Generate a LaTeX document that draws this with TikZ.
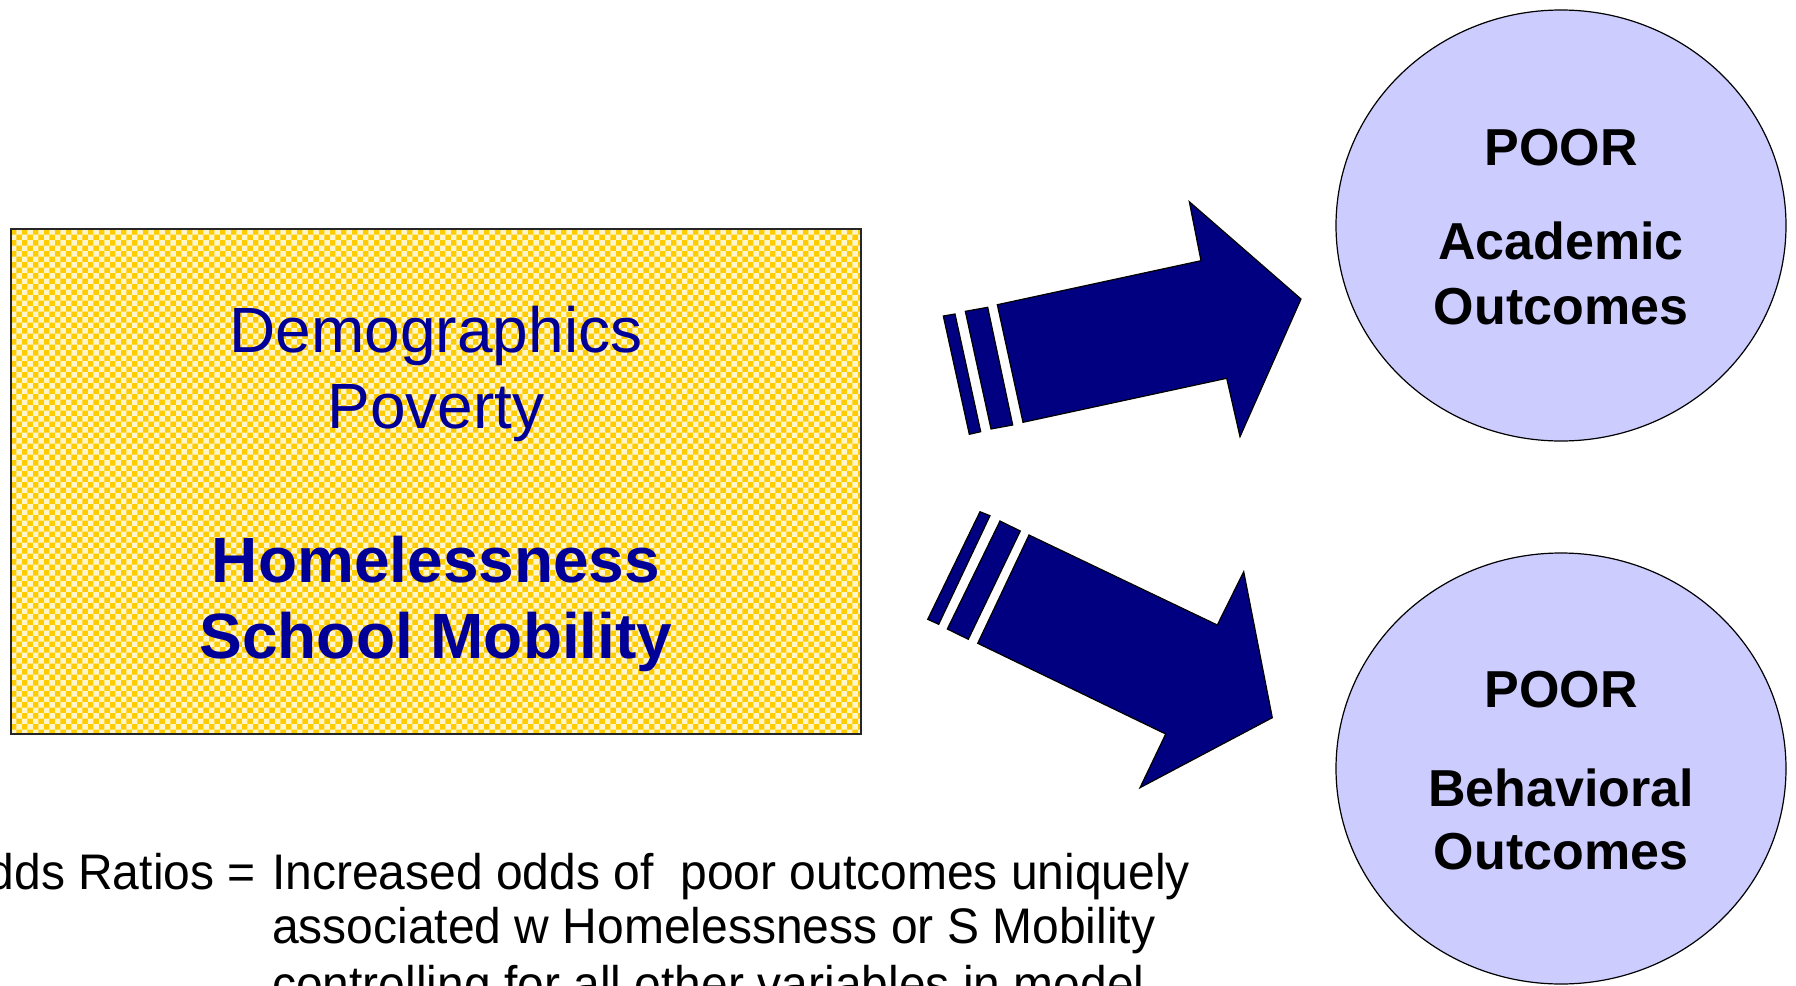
\documentclass[tikz,border=0pt]{standalone}
\usepackage{fontspec}
\setmainfont{Liberation Sans}
\usepackage{graphicx}
\usetikzlibrary{patterns,shapes.geometric}
\definecolor{boxyellow}{HTML}{FFCC00}
\definecolor{textnavy}{HTML}{000099}
\definecolor{arrownavy}{HTML}{000080}
\definecolor{circlefill}{HTML}{CCCCFF}
\tikzset{
  infobox/.style={rectangle, fill=boxyellow,
    postaction={pattern=checkerboard, pattern color=white!80!boxyellow},
    minimum width=850pt, minimum height=505pt, inner sep=0pt},
  boxedge/.style={draw=black!85, line width=1.5pt},
  boxtext/.style={anchor=base, inner sep=0pt, text=textnavy, font=\fontsize{64}{64}\selectfont},
  boxbold/.style={boxtext, font=\fontsize{64}{64}\selectfont\bfseries},
  outcome/.style={ellipse, draw=black, line width=1.2pt, fill=circlefill,
    minimum width=450pt, minimum height=431pt, inner sep=0pt},
  outtext/.style={anchor=base, inner sep=0pt, text=black, font=\fontsize{52}{52}\selectfont\bfseries},
  blockarrow/.style={fill=arrownavy, draw=black, line width=1.2pt, line join=miter},
  notetext/.style={inner sep=0pt, text=black, font=\fontsize{50}{50}\selectfont}
}
\begin{document}
\begin{tikzpicture}[x=1pt,y=-1pt]
\useasboundingbox (0,0) rectangle (1796,985);
\clip (0,0) rectangle (1796,985);

% left box
\node[infobox] (box) at (436,481.5) {};
\draw[boxedge] (box.north west) rectangle (box.south east);
\node[boxtext] (demo) at (436,352) {Demographics};
\node[boxtext] (pov) at (436,428) {Poverty};
\node[boxbold] (home) at (436,582) {Homelessness};
\node[boxbold] (mob) at (436,658) {School Mobility};

% outcome ellipses
\node[outcome] (acad) at (1561,225.5) {};
\node[outtext] (acadpoor) at (1561,165) {POOR};
\node[outtext] (acadname) at (1561,259) {Academic};
\node[outtext] (acadout) at (1561,324) {Outcomes};

\node[outcome] (behav) at (1561,768.5) {};
\node[outtext] (behavpoor) at (1561,707) {POOR};
\node[outtext] (behavname) at (1561,806) {Behavioral};
\node[outtext] (behavout) at (1561,869) {Outcomes};

% top block arrow
\draw[blockarrow] (997.3,304.7) -- (1201,260.7) -- (1189.3,201.7) -- (1301,299)
  -- (1240,436.7) -- (1226.7,378.3) -- (1023,422.3) -- cycle;
\draw[blockarrow] (965.3,311.3) -- (987.7,307.3) -- (1012.7,425) -- (991,429) -- cycle;
\draw[blockarrow] (943.3,316) -- (955,314) -- (980.7,431.7) -- (969.3,434.3) -- cycle;

% bottom block arrow
\draw[blockarrow] (1029,535) -- (1217.3,625) -- (1243.7,571.7) -- (1272.3,717.7)
  -- (1140,787.7) -- (1165.7,734) -- (977.7,643.3) -- cycle;
\draw[blockarrow] (1000,521) -- (1020.3,531) -- (968.3,639.3) -- (947.3,629) -- cycle;
\draw[blockarrow] (980,511.7) -- (990,515.7) -- (938.7,624.3) -- (927.7,619.3) -- cycle;

% note text
\node[notetext, anchor=base east] (oddslabel) at (256,889) {\scalebox{0.96}[1]{Odds Ratios =}};
\node[notetext, anchor=base west] (note1) at (272,889) {\scalebox{0.96}[1]{Increased odds of\ \ poor outcomes uniquely}};
\node[notetext, anchor=base west] (note2) at (272,943) {\scalebox{0.96}[1]{associated w Homelessness or S Mobility}};
\node[notetext, anchor=base west] (note3) at (272,1001) {\scalebox{0.96}[1]{controlling for all other variables in model}};
\end{tikzpicture}
\end{document}
